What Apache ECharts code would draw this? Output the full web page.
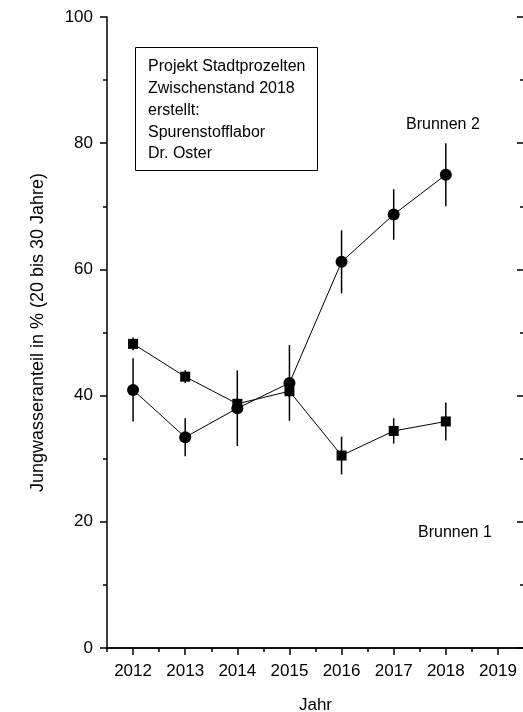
<!DOCTYPE html>
<html>
<head>
<meta charset="utf-8">
<script src="https://cdn.jsdelivr.net/npm/echarts@6/dist/echarts.min.js"></script>
<style>html,body{margin:0;padding:0;background:#fff;}#c{width:523px;height:712px;}</style>
</head>
<body>
<div id="c"></div>
<script>
const years = [2012, 2013, 2014, 2015, 2016, 2017, 2018];
const brunnen1 = [48.2, 43.0, 38.7, 40.7, 30.5, 34.4, 35.9];
const brunnen1Err = [1, 1, 1, 1, 3, 2, 3];
const brunnen2 = [40.9, 33.4, 38.0, 42.0, 61.2, 68.7, 75.0];
const brunnen2Err = [5, 3, 6, 6, 5, 4, 5];
const xMajor = [2012, 2013, 2014, 2015, 2016, 2017, 2018, 2019];
const xMinor = [2011.5, 2012.5, 2013.5, 2014.5, 2015.5, 2016.5, 2017.5, 2018.5, 2019.5];
const yMajor = [0, 20, 40, 60, 80, 100];
const yMinor = [10, 30, 50, 70, 90];
const boxLines = ['Projekt Stadtprozelten', 'Zwischenstand 2018', 'erstellt:', 'Spurenstofflabor', 'Dr. Oster'];

const FONT = '"Liberation Sans", Arial, sans-serif';
const chart = echarts.init(document.getElementById('c'), null, {renderer: 'canvas'});

function xAx(pos, custom, len, inside, showLine, showLabel, extra) {
  return Object.assign({
    type: 'value', position: pos, min: 2011.5, max: 2019.5,
    axisLine: {show: showLine, lineStyle: {color: '#000', width: 1.5}},
    axisTick: {show: true, inside: inside, length: len, customValues: custom, lineStyle: {color: '#000', width: 1.5}},
    axisLabel: {show: showLabel, customValues: custom, color: '#000', fontSize: 17, fontFamily: FONT, margin: 15,
      formatter: v => String(v)},
    splitLine: {show: false}
  }, extra || {});
}
function yAx(pos, custom, len, inside, showLine, showLabel, extra) {
  return Object.assign({
    type: 'value', position: pos, min: 0, max: 100,
    axisLine: {show: showLine, lineStyle: {color: '#000', width: 1.5}},
    axisTick: {show: true, inside: inside, length: len, customValues: custom, lineStyle: {color: '#000', width: 1.5}},
    axisLabel: {show: showLabel, customValues: custom, color: '#000', fontSize: 17, fontFamily: FONT, margin: 14,
      formatter: v => String(v)},
    splitLine: {show: false}
  }, extra || {});
}

function errData(vals, errs) {
  return years.map((y, i) => [y, vals[i] - errs[i], vals[i] + errs[i]]);
}
function renderErr(params, api) {
  const x = api.value(0);
  const p1 = api.coord([x, api.value(1)]);
  const p2 = api.coord([x, api.value(2)]);
  return {type: 'line', shape: {x1: p1[0], y1: p1[1], x2: p2[0], y2: p2[1]},
          style: {stroke: '#000', lineWidth: 1.5}};
}

const graphics = [
  {type: 'rect', left: 135, top: 47, shape: {width: 182, height: 123},
   style: {fill: '#fff', stroke: '#000', lineWidth: 1}, z: 100}
];
boxLines.forEach((t, i) => {
  graphics.push({type: 'text', left: 148, top: 59 + i * 21.7,
    style: {text: t, fill: '#000', font: '16px ' + FONT}, z: 101});
});
graphics.push({type: 'text', left: 406, top: 117, style: {text: 'Brunnen 2', fill: '#000', font: '16px ' + FONT}, z: 101});
graphics.push({type: 'text', left: 418, top: 525, style: {text: 'Brunnen 1', fill: '#000', font: '16px ' + FONT}, z: 101});

chart.setOption({
  animation: false,
  backgroundColor: '#fff',
  grid: {left: 107, top: 17, width: 417, height: 631, containLabel: false, outerBoundsMode: 'none'},
  xAxis: [
    xAx('bottom', xMajor, 7, false, true, true, {name: 'Jahr', nameLocation: 'middle', nameGap: 49,
      nameTextStyle: {color: '#000', fontSize: 17, fontFamily: FONT}}),
    xAx('bottom', xMinor, 4, false, false, false),
    xAx('top', xMajor, 7, true, true, false),
    xAx('top', xMinor, 4, true, false, false)
  ],
  yAxis: [
    yAx('left', yMajor, 7, false, true, true, {name: 'Jungwasseranteil in % (20 bis 30 Jahre)', nameLocation: 'middle', nameGap: 60,
      nameTextStyle: {color: '#000', fontSize: 18, fontFamily: FONT}}),
    yAx('left', yMinor, 4, false, false, false),
    yAx('right', yMajor, 7, true, false, false),
    yAx('right', yMinor, 4, true, false, false)
  ],
  series: [
    {type: 'custom', name: 'err1', xAxisIndex: 0, yAxisIndex: 0, renderItem: renderErr,
     encode: {x: 0, y: [1, 2]}, data: errData(brunnen1, brunnen1Err), z: 2},
    {type: 'custom', name: 'err2', xAxisIndex: 0, yAxisIndex: 0, renderItem: renderErr,
     encode: {x: 0, y: [1, 2]}, data: errData(brunnen2, brunnen2Err), z: 2},
    {type: 'line', name: 'Brunnen 1', xAxisIndex: 0, yAxisIndex: 0,
     data: years.map((y, i) => [y, brunnen1[i]]),
     symbol: 'rect', symbolSize: 10, showAllSymbol: true,
     lineStyle: {color: '#000', width: 1}, itemStyle: {color: '#000'}, z: 3},
    {type: 'line', name: 'Brunnen 2', xAxisIndex: 0, yAxisIndex: 0,
     data: years.map((y, i) => [y, brunnen2[i]]),
     symbol: 'circle', symbolSize: 12, showAllSymbol: true,
     lineStyle: {color: '#000', width: 1}, itemStyle: {color: '#000'}, z: 3}
  ],
  graphic: graphics
});
</script>
</body>
</html>
